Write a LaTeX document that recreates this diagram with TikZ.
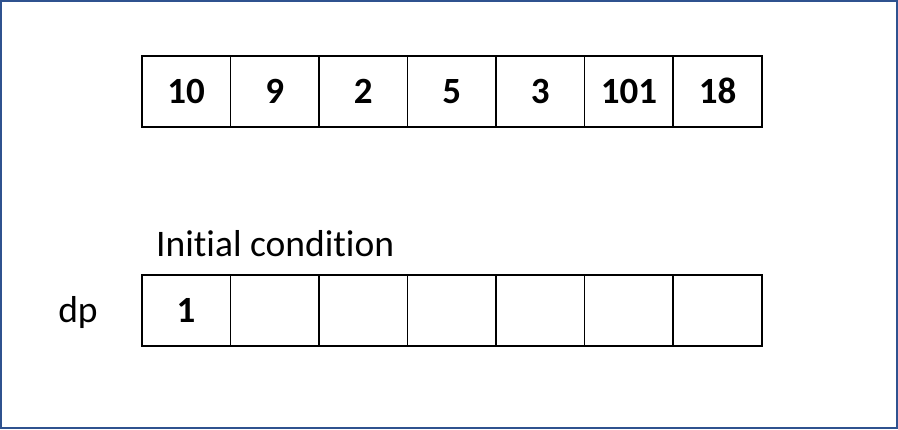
\documentclass[tikz,border=0pt]{standalone}
\usepackage{fontspec}
\setmainfont{Carlito}[Ligatures=NoCommon]
\definecolor{frameblue}{HTML}{2F528F}
\tikzset{
  cell/.style={draw=black, line width=1.6pt, minimum width=88.57pt, minimum height=71pt, inner sep=0pt, anchor=north west, font=\fontsize{37}{44}\selectfont\bfseries},
  lbl/.style={font=\fontsize{37.5}{44}\selectfont, inner sep=0pt},
}
\begin{document}
\begin{tikzpicture}[x=1pt,y=-1pt]
\useasboundingbox (0,0) rectangle (898,429);
\draw[frameblue, line width=2pt] (1,1) rectangle (897,428);
% top row
\foreach \v [count=\i] in {10,9,2,5,3,101,18} {
  \node[cell] (t\i) at ({141+(\i-1)*88.57},55) {\v};
}
% bottom row
\foreach \v [count=\i] in {1,{},{},{},{},{},{}} {
  \node[cell] (b\i) at ({141+(\i-1)*88.57},274) {\v};
}
\node[lbl, anchor=base west] (init) at (156,256) {Initial condition};
\node[lbl, anchor=base] (dp) at (78,322) {dp};
\end{tikzpicture}
\end{document}
